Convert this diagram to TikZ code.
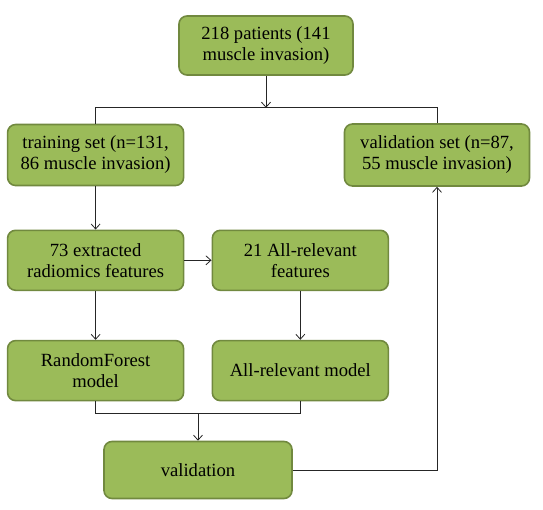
\documentclass[tikz,border=0pt]{standalone}
\usepackage{fontspec}
\setmainfont{Liberation Serif}
\usetikzlibrary{arrows.meta}
\definecolor{boxfill}{HTML}{9BBB59}
\definecolor{boxline}{HTML}{71893F}
\begin{document}
\begin{tikzpicture}[x=1pt,y=-1pt,
  gbox/.style={draw=boxline, line width=1.6pt, fill=boxfill, rounded corners=8pt,
    minimum width=#1, align=center, inner sep=0pt,
    font=\fontsize{18.6}{21}\selectfont},
  conn/.style={line width=0.8pt, draw=black!85},
  arr/.style={conn, -{Straight Barb[length=5pt,width=9pt,line width=0.8pt]}}]
\useasboundingbox (0,0) rectangle (543,509);
\node[gbox=174pt, minimum height=59pt] (top) at (266,45.5) {218 patients (141\\muscle invasion)};
\node[gbox=176pt, minimum height=61pt] (train) at (95.6,155) {training set (n=131,\\86 muscle invasion)};
\node[gbox=185pt, minimum height=62pt] (valset) at (437,155) {validation set (n=87,\\55 muscle invasion)};
\node[gbox=176pt, minimum height=60pt] (feat) at (95.6,260.3) {73 extracted\\radiomics features};
\node[gbox=176pt, minimum height=60pt] (allrel) at (300.3,260.3) {21 All-relevant\\features};
\node[gbox=176pt, minimum height=60pt] (rf) at (95.6,370.6) {RandomForest\\model};
\node[gbox=176pt, minimum height=60pt] (armodel) at (300.3,370.6) {All-relevant model};
\node[gbox=188pt, minimum height=57pt] (valid) at (198,470) {validation};
\coordinate (j1) at (266,107.8);
\coordinate (j2) at (198,413.3);
\draw[arr] (top.south) -- (j1);
\draw[conn] (train.north) |- (j1) -| (valset.north);
\draw[arr] (train.south) -- (feat.north);
\draw[arr] (feat.east) -- (allrel.west);
\draw[arr] (feat.south) -- (rf.north);
\draw[arr] (allrel.south) -- (armodel.north);
\draw[conn] (rf.south) |- (j2) -| (armodel.south);
\draw[arr] (j2) -- (valid.north);
\draw[arr] (valid.east) -| (valset.south);
\end{tikzpicture}
\end{document}
